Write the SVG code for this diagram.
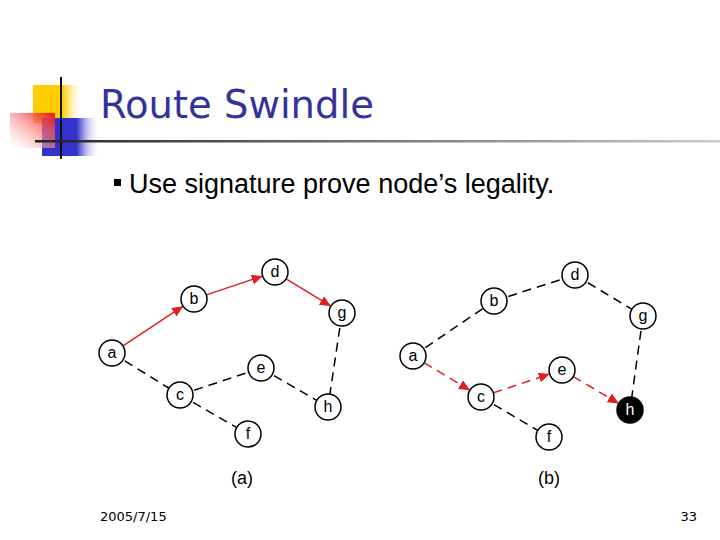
<svg xmlns="http://www.w3.org/2000/svg" width="720" height="540" viewBox="0 0 720 540">
<defs>
<linearGradient id="yel" x1="0" x2="1"><stop offset="0" stop-color="#ffcc00"/><stop offset="0.6" stop-color="#ffcc00"/><stop offset="1" stop-color="#ffffff" stop-opacity="0"/></linearGradient>
<linearGradient id="blu" x1="0" x2="1"><stop offset="0" stop-color="#3333cc"/><stop offset="0.6" stop-color="#3333cc"/><stop offset="1" stop-color="#ffffff" stop-opacity="0"/></linearGradient>
<linearGradient id="red" x1="1" y1="0" x2="0" y2="1"><stop offset="0" stop-color="#ee1111"/><stop offset="1" stop-color="#ffffff" stop-opacity="0.3"/></linearGradient>
<linearGradient id="rule" x1="0" x2="1"><stop offset="0" stop-color="#222222"/><stop offset="1" stop-color="#cccccc"/></linearGradient>
<marker id="ar" markerUnits="userSpaceOnUse" markerWidth="12" markerHeight="10" refX="11" refY="5" orient="auto"><path d="M0,0 L11,5 L0,10 Z" fill="#e02020"/></marker>
<style>
.n circle{fill:#fff;stroke:#000;stroke-width:1.5}
.n text{font-family:"Liberation Sans",Arial,sans-serif;font-size:16px;text-anchor:middle}
.d{stroke:#000;stroke-width:1.5;stroke-dasharray:9,6;fill:none}
.r{stroke:#e02020;stroke-width:1.5;fill:none;marker-end:url(#ar)}
.rd{stroke-dasharray:9,6}
</style>
</defs>
<rect width="720" height="540" fill="#fff"/>
<g id="decor">
<rect x="33" y="85" width="50" height="38" fill="url(#yel)"/>
<rect x="42" y="118" width="58" height="38" fill="url(#blu)"/>
<rect x="10" y="113" width="45" height="35" fill="url(#red)"/>
<line x1="61" y1="77" x2="61" y2="159" stroke="#111" stroke-width="2"/>
<rect x="35" y="140" width="685" height="2.5" fill="url(#rule)"/>
</g>
<text x="100" y="118" font-family="Tahoma,'DejaVu Sans','Liberation Sans',sans-serif" font-size="38.5" fill="#333399">Route Swindle</text>
<rect x="114" y="179" width="7" height="7" fill="#000"/>
<text x="129" y="193" font-family="'Liberation Sans',Arial,sans-serif" font-size="27">Use signature prove node’s legality.</text>
<g id="connectors">
<line class="d" x1="112" y1="353" x2="180" y2="395"/>
<line class="d" x1="180" y1="395" x2="261" y2="368"/>
<line class="d" x1="180" y1="395" x2="248" y2="434"/>
<line class="d" x1="261" y1="368" x2="328" y2="407"/>
<line class="d" x1="342" y1="313" x2="328" y2="407"/>
<line class="r" x1="122.9" y1="345.8" x2="183.1" y2="306.2"/>
<line class="r" x1="206.3" y1="294.9" x2="262.7" y2="276.1"/>
<line class="r" x1="286.1" y1="278.8" x2="330.9" y2="306.2"/>
<line class="d" x1="413" y1="356" x2="494" y2="301"/>
<line class="d" x1="494" y1="301" x2="575" y2="275"/>
<line class="d" x1="575" y1="275" x2="643" y2="316"/>
<line class="d" x1="643" y1="316" x2="630" y2="410"/>
<line class="d" x1="481" y1="397" x2="549" y2="437"/>
<line class="r rd" x1="424.1" y1="362.7" x2="469.9" y2="390.3"/>
<line class="r rd" x1="493.3" y1="392.9" x2="549.7" y2="374.1"/>
<line class="r rd" x1="573.2" y1="376.6" x2="618.8" y2="403.4"/>
</g>
<g id="a-a" class="n"><circle cx="112" cy="353" r="13"/><text x="112" y="358">a</text></g>
<g id="a-b" class="n"><circle cx="194" cy="299" r="13"/><text x="194" y="304">b</text></g>
<g id="a-d" class="n"><circle cx="275" cy="272" r="13"/><text x="275" y="277">d</text></g>
<g id="a-g" class="n"><circle cx="342" cy="313" r="13"/><text x="342" y="318">g</text></g>
<g id="a-e" class="n"><circle cx="261" cy="368" r="13"/><text x="261" y="373">e</text></g>
<g id="a-c" class="n"><circle cx="180" cy="395" r="13"/><text x="180" y="400">c</text></g>
<g id="a-h" class="n"><circle cx="328" cy="407" r="13"/><text x="328" y="412">h</text></g>
<g id="a-f" class="n"><circle cx="248" cy="434" r="13"/><text x="248" y="439">f</text></g>
<g id="b-a" class="n"><circle cx="413" cy="356" r="13"/><text x="413" y="361">a</text></g>
<g id="b-b" class="n"><circle cx="494" cy="301" r="13"/><text x="494" y="306">b</text></g>
<g id="b-d" class="n"><circle cx="575" cy="275" r="13"/><text x="575" y="280">d</text></g>
<g id="b-g" class="n"><circle cx="643" cy="316" r="13"/><text x="643" y="321">g</text></g>
<g id="b-e" class="n"><circle cx="562" cy="370" r="13"/><text x="562" y="375">e</text></g>
<g id="b-c" class="n"><circle cx="481" cy="397" r="13"/><text x="481" y="402">c</text></g>
<g id="b-h" class="n"><circle cx="630" cy="410" r="13" style="fill:#000"/><text x="630" y="415" fill="#fff">h</text></g>
<g id="b-f" class="n"><circle cx="549" cy="437" r="13"/><text x="549" y="442">f</text></g>
<g font-family="'Liberation Sans',Arial,sans-serif" font-size="18" text-anchor="middle">
<text x="242" y="484">(a)</text>
<text x="549" y="484">(b)</text>
</g>
<text x="100" y="521" font-family="'DejaVu Sans',sans-serif" font-size="13">2005/7/15</text>
<text x="697" y="521" font-family="'DejaVu Sans',sans-serif" font-size="13" text-anchor="end">33</text>
</svg>
